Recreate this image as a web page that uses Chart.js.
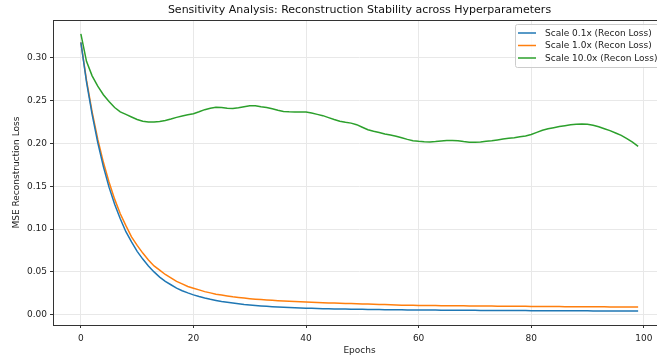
<!DOCTYPE html>
<html lang="en">
<head>
    <meta charset="UTF-8">
    <title>Sensitivity Analysis</title>
    <script src="https://cdn.jsdelivr.net/npm/chart.js"></script>
    <style>
        html, body {
            margin: 0;
            padding: 0;
            overflow: hidden;
            background: #ffffff;
        }
        #chart {
            display: block;
        }
    </style>
</head>
<body>
    <canvas id="chart" width="680" height="356"></canvas>

    <script>
        // Chart data
        const epochs = Array.from({ length: 100 }, (_, i) => i);

        const scale01 = [
            0.318, 0.272, 0.234, 0.201, 0.173, 0.149, 0.129, 0.112, 0.097, 0.085,
            0.074, 0.065, 0.057, 0.050, 0.044, 0.039, 0.035, 0.031, 0.028, 0.0255,
            0.0232, 0.0212, 0.0195, 0.0180, 0.0167, 0.0155, 0.0145, 0.0136, 0.0128, 0.0120,
            0.0114, 0.0108, 0.0103, 0.0098, 0.0094, 0.0090, 0.0087, 0.0084, 0.0081, 0.0079,
            0.0077, 0.0075, 0.0073, 0.0071, 0.0070, 0.0068, 0.0067, 0.0066, 0.0065, 0.0064,
            0.0063, 0.0062, 0.0061, 0.0060, 0.0059, 0.0058, 0.0058, 0.0057, 0.0056, 0.0056,
            0.0055, 0.0055, 0.0054, 0.0054, 0.0053, 0.0053, 0.0052, 0.0052, 0.0052, 0.0051,
            0.0051, 0.0050, 0.0050, 0.0050, 0.0049, 0.0049, 0.0049, 0.0048, 0.0048, 0.0048,
            0.0047, 0.0047, 0.0047, 0.0046, 0.0046, 0.0046, 0.0046, 0.0045, 0.0045, 0.0045,
            0.0045, 0.0044, 0.0044, 0.0044, 0.0044, 0.0044, 0.0043, 0.0043, 0.0043, 0.0043
        ];

        const scale1 = [
            0.318, 0.274, 0.237, 0.205, 0.178, 0.155, 0.135, 0.118, 0.104, 0.091,
            0.081, 0.072, 0.064, 0.057, 0.052, 0.047, 0.043, 0.039, 0.036, 0.033,
            0.031, 0.029, 0.027, 0.0255, 0.024, 0.023, 0.022, 0.021, 0.0202, 0.0195,
            0.0188, 0.0182, 0.0177, 0.0172, 0.0168, 0.0164, 0.0160, 0.0157, 0.0154, 0.0151,
            0.0148, 0.0145, 0.0143, 0.0140, 0.0138, 0.0136, 0.0134, 0.0132, 0.0130, 0.0128,
            0.0126, 0.0124, 0.0122, 0.0120, 0.0118, 0.0116, 0.0114, 0.0112, 0.0111, 0.0110,
            0.0109, 0.0108, 0.0107, 0.0107, 0.0106, 0.0105, 0.0105, 0.0104, 0.0104, 0.0103,
            0.0103, 0.0102, 0.0101, 0.0101, 0.0100, 0.0100, 0.0099, 0.0099, 0.0098, 0.0098,
            0.0097, 0.0097, 0.0096, 0.0096, 0.0095, 0.0095, 0.0094, 0.0094, 0.0094, 0.0093,
            0.0093, 0.0092, 0.0092, 0.0092, 0.0091, 0.0091, 0.0091, 0.0090, 0.0090, 0.0090
        ];

        const scale10 = [
            0.328, 0.296, 0.279, 0.267, 0.257, 0.249, 0.242, 0.237, 0.234, 0.231,
            0.228, 0.226, 0.225, 0.2252, 0.2258, 0.2268, 0.2285, 0.2305, 0.2322, 0.2335,
            0.2348, 0.237, 0.2395, 0.2412, 0.2422, 0.242, 0.2412, 0.241, 0.2418, 0.243,
            0.244, 0.2442, 0.243, 0.242, 0.2405, 0.2388, 0.2375, 0.237, 0.2368, 0.2368,
            0.2368, 0.2355, 0.234, 0.2325, 0.2302, 0.228, 0.226, 0.2248, 0.2238, 0.222,
            0.219, 0.216, 0.2142, 0.2128, 0.2112, 0.2098, 0.2085, 0.2068, 0.2048, 0.2032,
            0.2025, 0.202, 0.2017, 0.2022, 0.203, 0.2035, 0.2036, 0.2032, 0.2022, 0.2015,
            0.2015, 0.2018, 0.2025, 0.2032, 0.2042, 0.2052, 0.206, 0.2068, 0.2078, 0.2088,
            0.2105, 0.213, 0.2155, 0.2172, 0.2185, 0.2198, 0.2208, 0.2218, 0.2225, 0.2228,
            0.2225, 0.2212, 0.2195, 0.2172, 0.215, 0.2122, 0.2095, 0.2058, 0.2015, 0.1966
        ];

        const seriesLabels = ['Scale 0.1x (Recon Loss)', 'Scale 1.0x (Recon Loss)', 'Scale 10.0x (Recon Loss)'];
        const seriesColors = ['#1f77b4', '#ff7f0e', '#2ca02c'];
        const xTicks = [0, 20, 40, 60, 80, 100];
        const yTicks = [0.00, 0.05, 0.10, 0.15, 0.20, 0.25, 0.30];

        const FONT = 'DejaVu Sans';
        const toPoints = vals => vals.map((v, i) => ({ x: epochs[i], y: v }));

        // Frame around the plot area (all four spines)
        const spinesPlugin = {
            id: 'spines',
            afterDatasetsDraw(chart) {
                const { ctx, chartArea: a } = chart;
                ctx.save();
                ctx.strokeStyle = '#333333';
                ctx.lineWidth = 1;
                ctx.strokeRect(Math.round(a.left) + 0.5, Math.round(a.top) + 0.5,
                    Math.round(a.right - a.left), Math.round(a.bottom - a.top));
                ctx.restore();
            }
        };

        // Legend in the upper right corner, inside the axes
        const innerLegend = {
            id: 'innerLegend',
            afterDraw(chart) {
                const { ctx } = chart;
                const x0 = 515, y0 = 24, w = 146, h = 43;
                ctx.save();
                ctx.beginPath();
                ctx.roundRect(x0 + 0.5, y0 + 0.5, w, h, 2);
                ctx.fillStyle = 'rgba(255,255,255,0.8)';
                ctx.fill();
                ctx.strokeStyle = '#cccccc';
                ctx.lineWidth = 1;
                ctx.stroke();
                ctx.font = '9px "' + FONT + '"';
                ctx.textBaseline = 'middle';
                chart.data.datasets.forEach((ds, i) => {
                    const y = y0 + 9 + i * 12.5;
                    ctx.strokeStyle = ds.borderColor;
                    ctx.lineWidth = 1.5;
                    ctx.beginPath();
                    ctx.moveTo(x0 + 3, y);
                    ctx.lineTo(x0 + 21, y);
                    ctx.stroke();
                    ctx.fillStyle = '#222222';
                    ctx.fillText(ds.label, x0 + 30, y + 0.5);
                });
                ctx.restore();
            }
        };

        const ctx = document.getElementById('chart').getContext('2d');
        new Chart(ctx, {
            type: 'line',
            data: {
                datasets: [scale01, scale1, scale10].map((vals, i) => ({
                    label: seriesLabels[i],
                    data: toPoints(vals),
                    borderColor: seriesColors[i],
                    backgroundColor: seriesColors[i],
                    borderWidth: 1.5,
                    pointRadius: 0,
                    tension: 0,
                    fill: false
                }))
            },
            options: {
                responsive: false,
                animation: false,
                layout: { padding: { left: 0, right: 14, top: 0, bottom: 0 } },
                plugins: {
                    legend: { display: false },
                    tooltip: { enabled: false },
                    title: {
                        display: true,
                        fullSize: false,
                        text: 'Sensitivity Analysis: Reconstruction Stability across Hyperparameters',
                        color: '#111111',
                        font: { family: FONT, size: 11, weight: 'normal', lineHeight: 1.2 },
                        padding: { top: 4, bottom: 3 }
                    }
                },
                scales: {
                    x: {
                        type: 'linear',
                        min: -4.95,
                        max: 103.95,
                        afterBuildTicks: s => { s.ticks = xTicks.map(v => ({ value: v })); },
                        afterFit: s => { s.height = 31; },
                        grid: { color: '#e8e8e8', tickColor: '#333333', tickLength: 3 },
                        border: { display: false },
                        ticks: {
                            color: '#222222',
                            padding: 5,
                            maxRotation: 0,
                            font: { family: FONT, size: 9 },
                            callback: v => String(v)
                        },
                        title: {
                            display: true,
                            text: 'Epochs',
                            color: '#222222',
                            font: { family: FONT, size: 9 },
                            padding: { top: 0, bottom: 0 }
                        }
                    },
                    y: {
                        type: 'linear',
                        min: -0.012,
                        max: 0.344,
                        afterBuildTicks: s => { s.ticks = yTicks.map(v => ({ value: v })); },
                        afterFit: s => { s.width = 53; },
                        grid: { color: '#e8e8e8', tickColor: '#333333', tickLength: 3 },
                        border: { display: false },
                        ticks: {
                            color: '#222222',
                            padding: 3,
                            font: { family: FONT, size: 9 },
                            callback: v => v.toFixed(2)
                        },
                        title: {
                            display: true,
                            text: 'MSE Reconstruction Loss',
                            color: '#222222',
                            font: { family: FONT, size: 9 },
                            padding: { top: 11, bottom: 2 }
                        }
                    }
                }
            },
            plugins: [spinesPlugin, innerLegend]
        });
    </script>
</body>
</html>
